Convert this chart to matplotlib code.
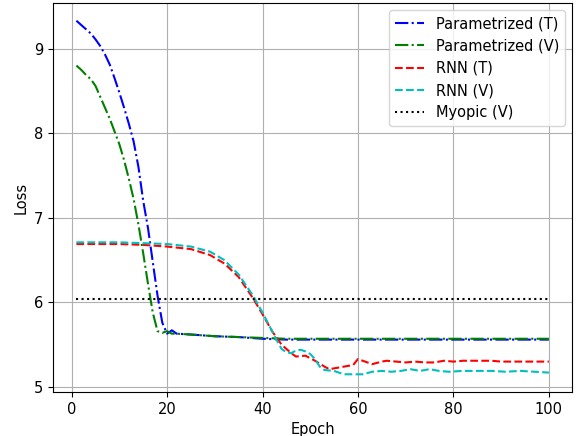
import matplotlib
matplotlib.use('Agg')
import matplotlib.pyplot as plt

plt.rcParams['font.size'] = 10.5

# Parametrized, training loss
ep_pt = [1, 2, 3, 4, 5, 6, 7, 8, 9, 10, 11, 12, 13, 14, 15, 16, 17, 18, 19, 20, 21, 22,
         25, 30, 35, 40, 45, 50, 60, 70, 80, 90, 100]
loss_pt = [9.33, 9.28, 9.23, 9.18, 9.11, 9.03, 8.93, 8.81, 8.65, 8.48, 8.30, 8.11, 7.90, 7.60,
           7.20, 6.88, 6.48, 6.08, 5.76, 5.63, 5.67, 5.63,
           5.62, 5.60, 5.59, 5.57, 5.56, 5.56, 5.56, 5.56, 5.56, 5.56, 5.56]

# Parametrized, validation loss
ep_pv = [1, 2, 3, 4, 5, 6, 7, 8, 9, 10, 11, 12, 13, 14, 15, 16, 17, 18, 19, 20, 21, 22,
         25, 30, 35, 40, 45, 50, 60, 70, 80, 90, 100]
loss_pv = [8.80, 8.75, 8.69, 8.64, 8.56, 8.43, 8.30, 8.17, 8.02, 7.87, 7.68, 7.46, 7.22, 6.92,
           6.58, 6.22, 5.88, 5.66, 5.64, 5.66, 5.63, 5.63,
           5.62, 5.60, 5.59, 5.58, 5.57, 5.57, 5.57, 5.57, 5.57, 5.57, 5.57]

# RNN, training loss
ep_rt = [1, 5, 10, 15, 20, 25, 29, 32, 35, 38, 40, 42, 44, 46, 47, 49, 51, 53, 54, 56, 58, 59,
         60, 61, 63, 65, 66, 68, 70, 72, 74, 76, 78, 80, 82, 85, 88, 90, 93, 96, 100]
loss_rt = [6.69, 6.69, 6.69, 6.68, 6.66, 6.63, 6.56, 6.46, 6.30, 6.05, 5.86, 5.66, 5.50, 5.40,
           5.36, 5.37, 5.31, 5.24, 5.21, 5.23, 5.25, 5.26, 5.33, 5.31, 5.27, 5.30, 5.31, 5.30,
           5.29, 5.30, 5.29, 5.29, 5.31, 5.30, 5.31, 5.31, 5.31, 5.30, 5.30, 5.30, 5.30]

# RNN, validation loss
ep_rv = [1, 10, 15, 20, 25, 29, 32, 35, 38, 40, 42, 43, 44, 45, 46, 47, 48, 49, 50, 51, 52, 53,
         55, 57, 59, 61, 63, 65, 67, 69, 71, 73, 75, 77, 79, 82, 85, 88, 91, 94, 97, 100]
loss_rv = [6.71, 6.71, 6.70, 6.69, 6.66, 6.60, 6.50, 6.33, 6.08, 5.88, 5.66, 5.55, 5.45, 5.41,
           5.40, 5.43, 5.44, 5.42, 5.39, 5.33, 5.24, 5.20, 5.19, 5.15, 5.15, 5.15, 5.18, 5.19,
           5.18, 5.19, 5.21, 5.19, 5.21, 5.19, 5.18, 5.19, 5.19, 5.19, 5.18, 5.19, 5.18, 5.17]

# Myopic baseline (validation)
ep_my = [1, 100]
loss_my = [6.04, 6.04]

fig, ax = plt.subplots(figsize=(5.8, 4.36), dpi=100)
ax.plot(ep_pt, loss_pt, 'b-.', label='Parametrized (T)')
ax.plot(ep_pv, loss_pv, 'g-.', label='Parametrized (V)')
ax.plot(ep_rt, loss_rt, 'r--', label='RNN (T)')
ax.plot(ep_rv, loss_rv, 'c--', label='RNN (V)')
ax.plot(ep_my, loss_my, 'k:', label='Myopic (V)')
ax.set_xlabel('Epoch')
ax.set_ylabel('Loss')
ax.grid(True)
ax.legend(loc='upper right')
plt.subplots_adjust(left=0.091, right=0.987, top=0.993, bottom=0.101)
plt.savefig('out.png', dpi=100)
